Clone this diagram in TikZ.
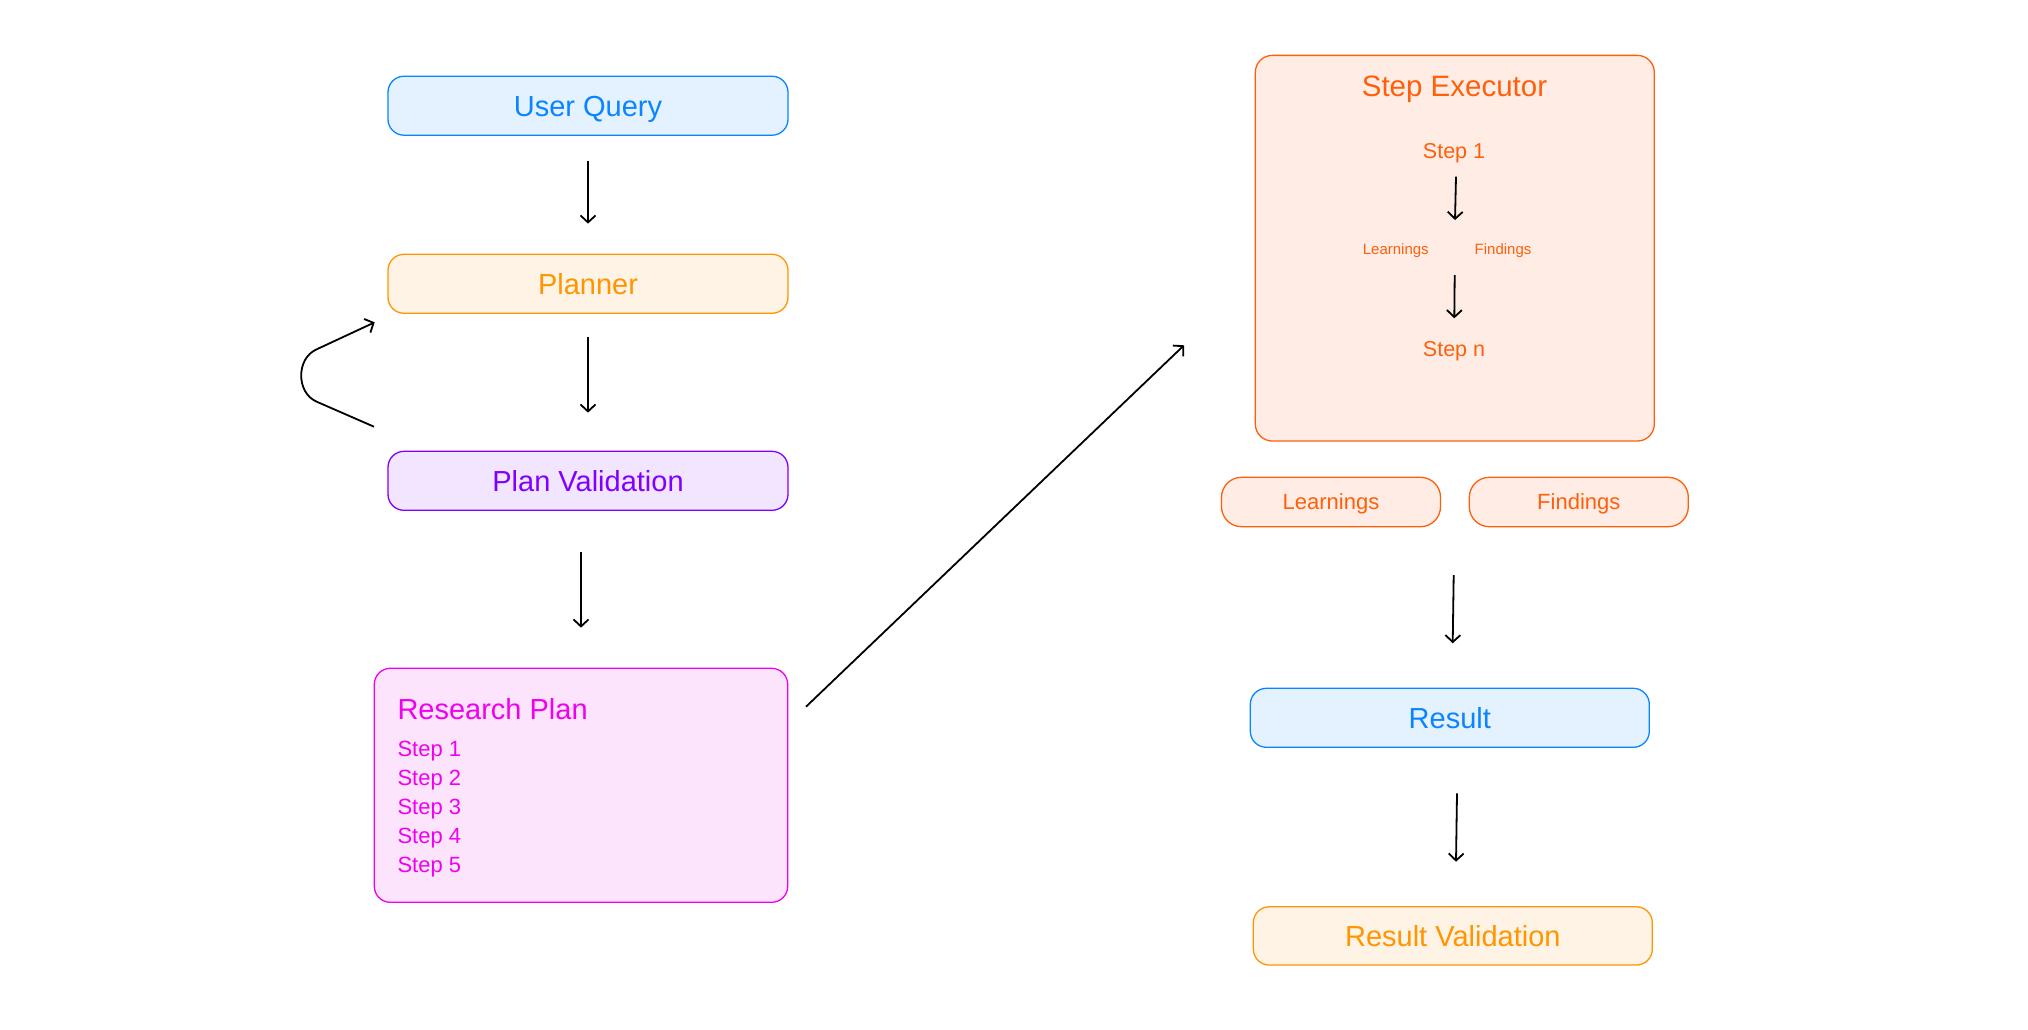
\documentclass[tikz,border=0pt]{standalone}
\usepackage{fontspec}
\setmainfont{Liberation Sans}
\usetikzlibrary{arrows.meta}
\definecolor{qblue}{HTML}{0A84FF}
\definecolor{qbluefill}{HTML}{E4F2FF}
\definecolor{qorange}{HTML}{FF9500}
\definecolor{qorangefill}{HTML}{FFF3E5}
\definecolor{qpurple}{HTML}{8000FF}
\definecolor{qpurplefill}{HTML}{F2E5FF}
\definecolor{qmag}{HTML}{F000F0}
\definecolor{qmagfill}{HTML}{FCE4FC}
\definecolor{qred}{HTML}{FF5F0A}
\definecolor{qredfill}{HTML}{FFEDE5}
\begin{document}
\begin{tikzpicture}[x=1pt,y=-1pt,
  box/.style={draw, rounded corners=16pt, line width=1.3pt, minimum width=400pt,
    minimum height=59pt, inner sep=0pt, text height=20.8pt, text depth=0pt,
    font=\fontsize{29}{34}\selectfont},
  bluebox/.style={box, draw=qblue, fill=qbluefill, text=qblue},
  orangebox/.style={box, draw=qorange, fill=qorangefill, text=qorange},
  purplebox/.style={box, draw=qpurple, fill=qpurplefill, text=qpurple},
  smallbox/.style={draw=qred, fill=qredfill, text=qred, rounded corners=20pt,
    line width=1.3pt, minimum width=219pt, minimum height=49.4pt, inner sep=0pt,
    text height=15.8pt, text depth=0pt, font=\fontsize{22}{26}\selectfont},
  plain/.style={inner sep=0pt, anchor=base},
  arr/.style={line width=1.8pt, -{Straight Barb[length=7pt,width=15pt,line width=1.8pt]}},
]
\useasboundingbox (0,0) rectangle (2028,1029);

% left column
\node[bluebox] (uq) at (588,105.7) {User Query};
\node[orangebox] (planner) at (588,283.8) {Planner};
\node[purplebox] (pv) at (588,480.8) {Plan Validation};
\node[draw=qmag, fill=qmagfill, rounded corners=16pt, line width=1.3pt,
  minimum width=413.4pt, minimum height=234pt, inner sep=0pt] (rp) at (581,785.3) {};
\node[plain, anchor=base west, text=qmag, font=\fontsize{29}{34}\selectfont] (rpt) at (397.3,719) {Research Plan};
\foreach \i/\y in {1/756.7,2/785.7,3/814.7,4/843.7,5/872.7}{
  \node[plain, anchor=base west, text=qmag, font=\fontsize{22}{26}\selectfont] (rps\i) at (397.3,\y) {Step \i};
}

% right column
\node[draw=qred, fill=qredfill, rounded corners=17pt, line width=1.3pt,
  minimum width=399pt, minimum height=385.7pt, inner sep=0pt] (se) at (1454.8,248.2) {};
\node[plain, text=qred, font=\fontsize{29.5}{34}\selectfont] (set) at (1454.5,96) {Step Executor};
\node[plain, text=qred, font=\fontsize{21.5}{26}\selectfont] (s1) at (1454,158.3) {Step 1};
\node[plain, text=qred, font=\fontsize{15}{18}\selectfont] (sl) at (1395.8,254.3) {Learnings};
\node[plain, text=qred, font=\fontsize{15}{18}\selectfont] (sf) at (1503,254.3) {Findings};
\node[plain, text=qred, font=\fontsize{21.5}{26}\selectfont] (sn) at (1454,356.7) {Step n};
\node[smallbox] (lb) at (1331,502) {Learnings};
\node[smallbox] (fb) at (1578.8,502) {Findings};
\node[bluebox, minimum width=399pt] (res) at (1449.8,717.8) {Result};
\node[orangebox, minimum width=399pt, minimum height=58.3pt] (rv) at (1452.8,935.9) {Result Validation};

% arrow end points
\coordinate (a1s) at (1456,176.7);   \coordinate (a1e) at (1455,220);
\coordinate (a2s) at (1454.7,275);   \coordinate (a2e) at (1454.3,318.3);
\coordinate (a3s) at (1453.7,575);   \coordinate (a3e) at (1452.7,643.3);
\coordinate (a4s) at (1457,793.3);   \coordinate (a4e) at (1456,861.7);
\coordinate (ds) at (806,706.7);     \coordinate (de) at (1184,345.3);
\coordinate (ls) at (374,426.7);     \coordinate (le) at (374.7,322.3);

% connectors
\draw[arr, shorten <=24.7pt, shorten >=30pt] (uq) -- (planner);
\draw[arr, shorten <=22.7pt, shorten >=38pt] (planner) -- (pv);
\draw[arr, shorten <=40.7pt, shorten >=40pt] (pv.south -| rp.north) -- (rp.north);
\draw[arr] (ls) -- (316.7,401.7) .. controls (296,392.7) and (296,358.3) .. (316.7,349.3) -- (le);
\draw[arr] (ds) -- (de);
\draw[arr] (a1s) -- (a1e);
\draw[arr] (a2s) -- (a2e);
\draw[arr] (a3s) -- (a3e);
\draw[arr] (a4s) -- (a4e);
\end{tikzpicture}
\end{document}
